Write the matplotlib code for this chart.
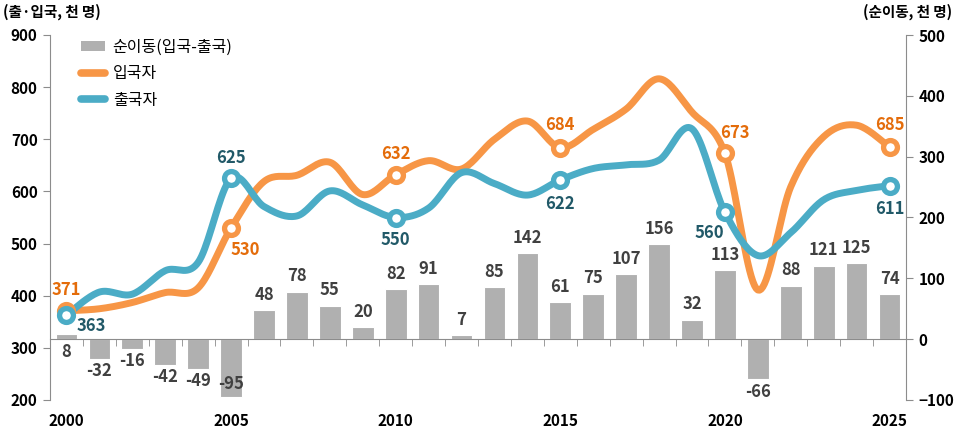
import numpy as np
import matplotlib
matplotlib.use("Agg")
import matplotlib.pyplot as plt
from matplotlib.patches import Patch
from matplotlib.lines import Line2D

plt.rcParams['font.family'] = ['Noto Sans CJK KR', 'DejaVu Sans']

years = list(range(2000, 2026))
inflow = [371, 375, 387, 406, 415, 530, 619, 631, 656, 594, 632, 659, 643,
          700, 735, 684, 719, 758, 816, 752, 673, 411, 609, 705, 727, 685]
outflow = [363, 407, 403, 448, 464, 625, 571, 553, 601, 574, 550, 568, 636,
           615, 593, 622, 644, 651, 660, 720, 560, 477, 521, 584, 602, 611]
net = [8, -32, -16, -42, -49, -95, 48, 78, 55, 20, 82, 91, 7,
       85, 142, 61, 75, 107, 156, 32, 113, -66, 88, 121, 125, 74]
label_years = [2000, 2005, 2010, 2015, 2020, 2025]

ORANGE = '#F79646'
ORANGE_TXT = '#E46C0A'
TEAL = '#4BACC6'
TEAL_TXT = '#215968'
GRAY = '#B0B0B0'
DARK = '#404040'
AXIS = '#8C8C8C'
FS = 12


def smooth(x, y, n=20):
    # catmull-rom, like excel's smoothed line
    p = np.column_stack([x, y]).astype(float)
    p = np.vstack([p[0], p, p[-1]])
    out = []
    t = np.linspace(0, 1, n, endpoint=False)[:, None]
    for i in range(1, len(p) - 2):
        p0, p1, p2, p3 = p[i - 1], p[i], p[i + 1], p[i + 2]
        seg = 0.5 * ((2 * p1) + (-p0 + p2) * t + (2 * p0 - 5 * p1 + 4 * p2 - p3) * t ** 2
                     + (-p0 + 3 * p1 - 3 * p2 + p3) * t ** 3)
        out.append(seg)
    out.append(p[-2][None, :])
    s = np.vstack(out)
    return s[:, 0], s[:, 1]


fig = plt.figure(figsize=(9.56, 4.30), dpi=100)
ax = fig.add_axes([50 / 956, 1 - 400 / 430, 856 / 956, 365 / 430])
ax2 = ax.twinx()
ax.set_zorder(ax2.get_zorder() + 1)
ax.patch.set_visible(False)

# bars (right axis)
ax2.bar(years, net, width=0.66, color=GRAY, edgecolor='white', linewidth=0.8, zorder=2)
ax2.set_ylim(-100, 500)
ax2.set_yticks(range(-100, 501, 100))
for yr, v in zip(years, net):
    if v >= 0 and yr != 2000:
        ax2.annotate(str(v), (yr, v), xytext=(0, 11), textcoords='offset points',
                     ha='center', va='center', fontsize=FS, fontweight='bold', color=DARK)
    else:
        base = min(v, 0)
        ylab = base - 18 if base - 18 > -90 else -72
        ax2.annotate(str(v), (yr, ylab), xytext=(0, -1), textcoords='offset points',
                     ha='center', va='center', fontsize=FS, fontweight='bold', color=DARK)

# lines (left axis)
for vals, col in [(inflow, ORANGE), (outflow, TEAL)]:
    sx, sy = smooth(years, vals)
    ax.plot(sx, sy, color=col, lw=5, solid_capstyle='round', zorder=3)
    mk = [years.index(y) for y in label_years]
    ax.plot([years[i] for i in mk], [vals[i] for i in mk], 'o', ms=10, mew=3.8,
            mfc='white', mec=col, zorder=4)

in_off = {2000: (0, 15), 2005: (10, -16), 2010: (0, 15), 2015: (0, 16), 2020: (7, 15), 2025: (0, 16)}
out_off = {2000: (18, -8), 2005: (0, 15), 2010: (0, -16), 2015: (0, -17), 2020: (-11, -15), 2025: (0, -17)}
for yr in label_years:
    i = years.index(yr)
    ax.annotate(str(inflow[i]), (yr, inflow[i]), xytext=in_off[yr], textcoords='offset points',
                ha='center', va='center', fontsize=FS, fontweight='bold', color=ORANGE_TXT, zorder=5)
    ax.annotate(str(outflow[i]), (yr, outflow[i]), xytext=out_off[yr], textcoords='offset points',
                ha='center', va='center', fontsize=FS, fontweight='bold', color=TEAL_TXT, zorder=5)

ax.set_ylim(200, 900)
ax.set_yticks(range(200, 901, 100))
ax.set_xlim(1999.5, 2025.5)
ax.set_xticks(label_years)
ax.set_xticks(np.arange(1999.5, 2025.6, 1), minor=True)

# spines and ticks
for s in ['top', 'bottom', 'right']:
    ax.spines[s].set_visible(False)
ax.spines['left'].set_color(AXIS)
ax.tick_params(axis='y', length=5, color=AXIS, labelsize=11, pad=4)
ax.tick_params(axis='x', which='both', length=0, labelsize=11, pad=9)
for t in ax.get_xticklabels() + ax.get_yticklabels():
    t.set_fontweight('bold')

ax2.xaxis.set_visible(True)
ax2.spines['top'].set_visible(False)
ax2.spines['left'].set_visible(False)
ax2.spines['right'].set_color(AXIS)
ax2.spines['bottom'].set_position(('data', 0))
ax2.spines['bottom'].set_color(AXIS)
ax2.tick_params(axis='x', which='major', length=0, labelbottom=False)
ax2.tick_params(axis='x', which='minor', length=5, color=AXIS, direction='out')
ax2.tick_params(axis='y', length=5, color=AXIS, labelsize=11, pad=4)
for t in ax2.get_yticklabels():
    t.set_fontweight('bold')

# legend
handles = [Patch(facecolor=GRAY, edgecolor='none'),
           Line2D([], [], color=ORANGE, lw=5.5, solid_capstyle='round'),
           Line2D([], [], color=TEAL, lw=5.5, solid_capstyle='round')]
labels = ['순이동(입국-출국)', '입국자', '출국자']
ax.legend(handles, labels, loc='upper left', bbox_to_anchor=(0.02, 1.03), frameon=False,
          fontsize=11.5, handlelength=1.45, handleheight=0.55, labelspacing=0.6, handletextpad=0.5)

fig.text(3 / 956, 1 - 12 / 430, '(출·입국, 천 명)', ha='left', va='center', fontsize=10.5, fontweight='bold')
fig.text(952 / 956, 1 - 12 / 430, '(순이동, 천 명)', ha='right', va='center', fontsize=10.5, fontweight='bold')

fig.savefig('out.png', dpi=100)
